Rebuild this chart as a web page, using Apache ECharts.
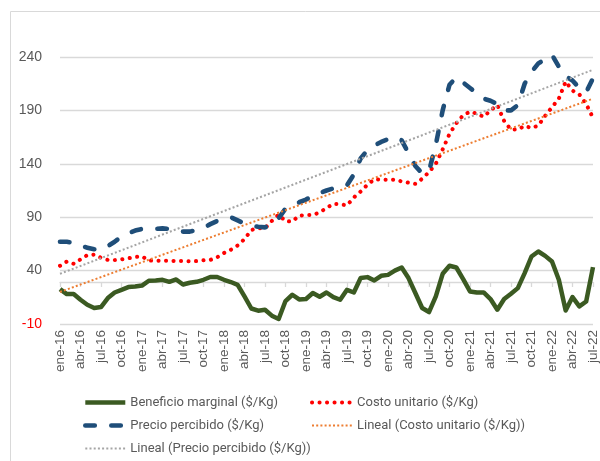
<!DOCTYPE html>
<html>
<head>
<meta charset="utf-8">
<script src="https://cdn.jsdelivr.net/npm/echarts@6.0.0/dist/echarts.min.js"></script>
<style>
  html, body { margin: 0; padding: 0; background: #fff; }
  #chart { width: 600px; height: 461px; }
</style>
</head>
<body>
<div id="chart"></div>
<script>
// months shown on the axis
var meses = ['ene', 'feb', 'mar', 'abr', 'may', 'jun', 'jul', 'ago', 'sep', 'oct', 'nov', 'dic'];
var anios = ['16', '17', '18', '19', '20', '21', '22'];
var categorias = [];
anios.forEach(function (a) {
    meses.forEach(function (m) {
        if (categorias.length < 79) categorias.push(m + '-' + a);
    });
});

var beneficio = [22.7, 18, 18, 12.7, 8, 5, 5.9, 14.3, 19.5, 22, 24.6, 25.1,
    26, 30.5, 30.8, 31.4, 29.5, 31.7, 27, 28.6, 29.5, 31.4, 34, 34,
    31.4, 29.3, 26.7, 15.8, 4.5, 2.5, 3.4, -2.2, -5.3, 11.5, 17.4, 13,
    13.4, 19, 15.5, 19.5, 15.2, 12.7, 22, 19.5, 33, 33.9, 30.8, 35.1,
    36, 40, 42.9, 33, 19, 5, 1.2, 15.8, 37, 44.5, 42.9, 32,
    20.5, 19.5, 19.5, 13.4, 3.4, 13.4, 18.3, 23.6, 37.7, 53.2, 57.9, 53.8,
    48.5, 31.4, 2.7, 15.2, 6.5, 11.1, 43.3];

var costo = [44.5, 48.5, 46.4, 50.5, 54.5, 55, 52, 50, 49.8, 50.5, 51.5, 52.8,
    53.2, 49.5, 49.2, 49.2, 49.2, 49, 48.9, 48.7, 48.9, 49.6, 50, 52.5,
    56.5, 59.5, 63.5, 69.5, 78, 79.7, 79.6, 86.5, 92.5, 86.2, 86, 91.5,
    92, 92, 94.5, 98.5, 102.5, 102.2, 101, 108.5, 114, 120.5, 125.5, 125.2,
    125, 125.2, 123.5, 122.3, 121.2, 126, 132.3, 140, 153.5, 168, 178, 185.5,
    188.8, 187, 184, 190, 195, 180, 172, 172, 175.5, 173.5, 175.8, 185,
    193, 201, 217, 208.5, 205, 196, 183];

var precio = [67, 67, 66, 63, 61.5, 60, 59.5, 63, 67, 72, 75, 77.5,
    79, 79, 79, 79.5, 79, 77, 76.5, 76.5, 78, 80, 83.5, 86.5,
    88.5, 90, 87, 84, 82, 81, 80.5, 83, 89, 98, 101.5, 104,
    106.5, 110, 112.5, 115, 117, 118.5, 120, 130, 145, 153, 157, 160.5,
    163, 165, 162, 150, 138, 131, 133, 158, 190, 214, 221, 216,
    211, 206, 201, 199, 196, 190, 190, 195, 215, 226, 234, 238,
    242, 231, 222, 218, 211, 207, 220];

// trend lines: values at first and last month
var tendPrecio = [37, 228];
var tendCosto = [20, 201];

var yTicks = { min: -10, max: 240, interval: 50 };

var myChart = echarts.init(document.getElementById('chart'));
var textGray = '#595959';
var last = categorias.length - 1;

var legendBase = {
    orient: 'vertical',
    top: 396,
    padding: 0,
    itemWidth: 40, itemHeight: 14, itemGap: 10,
    itemStyle: { opacity: 0 },
    lineStyle: { width: 'inherit' },
    textStyle: { color: textGray, fontFamily: 'Roboto', fontSize: 13 }
};

option = {
    animation: false,
    graphic: [{
        type: 'rect',
        shape: { x: 10.5, y: 11.5, width: 620, height: 480 },
        style: { fill: 'none', stroke: '#d9d9d9', lineWidth: 1 },
        silent: true
    }],
    grid: { left: 60, right: 7, top: 57, bottom: 137 },
    legend: [
        Object.assign({}, legendBase, {
            left: 83,
            data: ['Beneficio marginal ($/Kg)', 'Precio percibido ($/Kg)', 'Lineal (Precio percibido ($/Kg))']
        }),
        Object.assign({}, legendBase, {
            left: 310,
            data: ['Costo unitario ($/Kg)', 'Lineal (Costo unitario ($/Kg))']
        })
    ],
    xAxis: [{
        type: 'category',
        data: categorias,
        boundaryGap: false,
        axisLine: { show: false, onZero: false },
        axisTick: { show: false },
        axisLabel: {
            interval: 2,
            rotate: 90,
            margin: 6,
            color: textGray,
            fontFamily: 'Liberation Sans',
            fontSize: 13.5
        }
    }, {
        type: 'category',
        data: categorias,
        position: 'bottom',
        boundaryGap: false,
        axisLine: { show: true, onZero: true, onZeroAxisIndex: 1, lineStyle: { color: '#d9d9d9', width: 1.3 } },
        axisTick: { show: true, interval: 2, length: 5, lineStyle: { color: '#d9d9d9', width: 1.3 } },
        axisLabel: { show: false }
    }],
    yAxis: [{
        type: 'value',
        min: yTicks.min,
        max: yTicks.max,
        interval: yTicks.interval,
        axisLine: { show: false },
        axisTick: { show: false },
        splitLine: { lineStyle: { color: '#d9d9d9', width: 1.3 } },
        axisLabel: {
            margin: 18,
            color: textGray,
            fontFamily: 'Liberation Sans',
            fontSize: 14,
            formatter: function (v) { return v < 0 ? '{neg|' + v + '}' : v; },
            rich: { neg: { color: '#ff0000', fontFamily: 'Liberation Sans', fontSize: 14 } }
        }
    }, {
        // hidden scale that puts the category line where Excel draws it
        type: 'value',
        min: -42,
        max: 225,
        axisLine: { show: false },
        axisTick: { show: false },
        axisLabel: { show: false },
        splitLine: { show: false }
    }],
    series: [{
        name: 'Beneficio marginal ($/Kg)',
        type: 'line',
        data: beneficio,
        symbol: 'none',
        lineStyle: { color: '#3b5a22', width: 4.5, join: 'round' },
        itemStyle: { color: '#3b5a22' }
    }, {
        name: 'Costo unitario ($/Kg)',
        type: 'line',
        data: costo,
        symbol: 'none',
        lineStyle: { color: '#ff0000', width: 4, type: [0.1, 7.4], cap: 'round' },
        itemStyle: { color: '#ff0000' }
    }, {
        name: 'Precio percibido ($/Kg)',
        type: 'line',
        data: precio,
        symbol: 'none',
        lineStyle: { color: '#1f4e79', width: 4.6, type: [9.5, 16.5], cap: 'round', join: 'round' },
        itemStyle: { color: '#1f4e79' }
    }, {
        name: 'Lineal (Costo unitario ($/Kg))',
        type: 'line',
        data: [[categorias[0], tendCosto[0]], [categorias[last], tendCosto[1]]],
        symbol: 'none',
        lineStyle: { color: '#ed7d31', width: 2, type: [2, 2.2] },
        itemStyle: { color: '#ed7d31' }
    }, {
        name: 'Lineal (Precio percibido ($/Kg))',
        type: 'line',
        data: [[categorias[0], tendPrecio[0]], [categorias[last], tendPrecio[1]]],
        symbol: 'none',
        lineStyle: { color: '#a5a5a5', width: 2, type: [2, 2.2] },
        itemStyle: { color: '#a5a5a5' }
    }]
};
myChart.setOption(option);
</script>
</body>
</html>
